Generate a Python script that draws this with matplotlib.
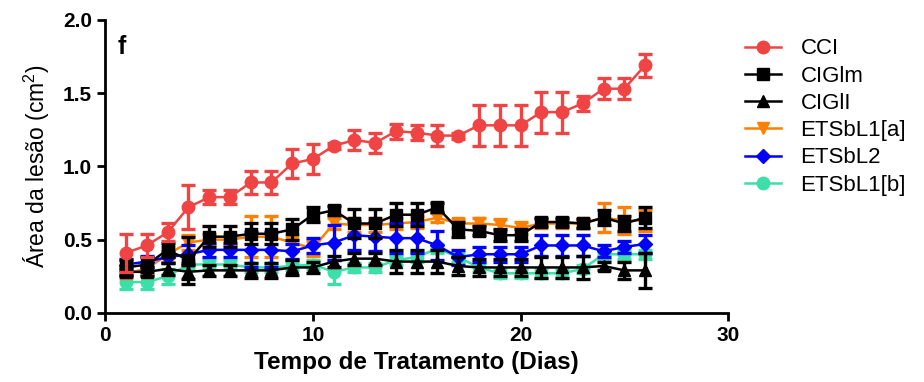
import matplotlib.pyplot as plt
from matplotlib.lines import Line2D

plt.rcParams['font.family'] = ['Liberation Sans', 'DejaVu Sans']
plt.rcParams['mathtext.fontset'] = 'custom'
plt.rcParams['mathtext.rm'] = 'Liberation Sans'

dias = list(range(1, 27))

cci = [0.41, 0.46, 0.55, 0.72, 0.79, 0.79, 0.89, 0.89, 1.02, 1.05, 1.14, 1.18, 1.16,
       1.24, 1.23, 1.21, 1.21, 1.28, 1.28, 1.28, 1.37, 1.37, 1.43, 1.53, 1.53, 1.69]
cci_err = [0.13, 0.08, 0.06, 0.15, 0.05, 0.05, 0.08, 0.08, 0.10, 0.10, 0.02, 0.07, 0.07,
           0.05, 0.05, 0.07, 0.02, 0.14, 0.14, 0.14, 0.14, 0.14, 0.05, 0.07, 0.07, 0.08]

ciglm = [0.31, 0.33, 0.43, 0.36, 0.52, 0.52, 0.54, 0.54, 0.57, 0.67, 0.70, 0.61, 0.61,
         0.67, 0.67, 0.72, 0.57, 0.56, 0.53, 0.53, 0.62, 0.62, 0.61, 0.65, 0.61, 0.65]
ciglm_err = [0.05, 0.05, 0.05, 0.16, 0.07, 0.07, 0.07, 0.07, 0.07, 0.05, 0.03, 0.10, 0.10,
             0.08, 0.08, 0.03, 0.05, 0.03, 0.04, 0.04, 0.03, 0.03, 0.03, 0.05, 0.05, 0.07]

cigli = [0.28, 0.28, 0.30, 0.28, 0.29, 0.29, 0.29, 0.29, 0.31, 0.31, 0.35, 0.37, 0.37,
         0.35, 0.35, 0.35, 0.32, 0.31, 0.31, 0.31, 0.31, 0.31, 0.31, 0.32, 0.29, 0.29]
cigli_err = [0.03, 0.03, 0.04, 0.05, 0.04, 0.04, 0.05, 0.05, 0.05, 0.04, 0.04, 0.04, 0.04,
             0.08, 0.08, 0.08, 0.06, 0.06, 0.06, 0.06, 0.07, 0.07, 0.08, 0.03, 0.06, 0.12]

etsbl1a = [0.27, 0.30, 0.40, 0.48, 0.50, 0.50, 0.52, 0.52, 0.48, 0.44, 0.61, 0.60, 0.60,
           0.61, 0.62, 0.65, 0.61, 0.61, 0.60, 0.58, 0.61, 0.61, 0.61, 0.65, 0.63, 0.63]
etsbl1a_err = [0.03, 0.04, 0.05, 0.05, 0.04, 0.04, 0.14, 0.14, 0.05, 0.05, 0.04, 0.05, 0.05,
               0.04, 0.04, 0.03, 0.03, 0.04, 0.04, 0.04, 0.03, 0.03, 0.03, 0.10, 0.09, 0.07]

etsbl2 = [0.33, 0.35, 0.38, 0.40, 0.43, 0.43, 0.43, 0.43, 0.42, 0.46, 0.48, 0.53, 0.52,
          0.51, 0.51, 0.46, 0.38, 0.40, 0.40, 0.40, 0.46, 0.46, 0.46, 0.42, 0.45, 0.47]
etsbl2_err = [0.04, 0.04, 0.04, 0.06, 0.05, 0.05, 0.12, 0.12, 0.05, 0.05, 0.12, 0.10, 0.10,
              0.10, 0.10, 0.10, 0.05, 0.05, 0.05, 0.05, 0.07, 0.07, 0.07, 0.04, 0.04, 0.06]

etsbl1b = [0.21, 0.21, 0.25, 0.33, 0.33, 0.33, 0.31, 0.31, 0.32, 0.33, 0.28, 0.31, 0.31,
           0.36, 0.38, 0.44, 0.38, 0.31, 0.27, 0.27, 0.27, 0.27, 0.30, 0.40, 0.40, 0.40]
etsbl1b_err = [0.05, 0.05, 0.05, 0.03, 0.03, 0.03, 0.03, 0.03, 0.03, 0.03, 0.08, 0.03, 0.03,
               0.03, 0.03, 0.03, 0.03, 0.03, 0.03, 0.03, 0.03, 0.03, 0.03, 0.03, 0.03, 0.03]

fig = plt.figure(figsize=(9.24, 3.82), dpi=100)
ax = fig.add_axes([0.114, 0.181, 0.674, 0.767])

series = [
    ("CCI", cci, cci_err, "#F04444", "o", 9, 6),
    ("CIGlm", ciglm, ciglm_err, "black", "s", 9, 5),
    ("CIGlI", cigli, cigli_err, "black", "^", 9, 4),
    ("ETSbL1[a]", etsbl1a, etsbl1a_err, "#FF8000", "v", 9, 2),
    ("ETSbL2", etsbl2, etsbl2_err, "#0000FF", "D", 7, 3),
    ("ETSbL1[b]", etsbl1b, etsbl1b_err, "#3DDFA8", "o", 9, 1),
]

handles = []
for name, vals, err, col, mk, ms, z in series:
    ax.errorbar(dias, vals, yerr=err, color=col, marker=mk, markersize=ms,
                linewidth=1.8, elinewidth=2.4, capsize=5, capthick=2.4,
                zorder=z)
    handles.append(Line2D([], [], color=col, marker=mk, markersize=ms,
                          linewidth=1.8, label=name))

ax.set_xlim(0, 30)
ax.set_ylim(0, 2.0)
ax.set_xticks([0, 10, 20, 30])
ax.set_yticks([0.0, 0.5, 1.0, 1.5, 2.0])
ax.set_yticklabels(["0.0", "0.5", "1.0", "1.5", "2.0"])
for s in ["top", "right"]:
    ax.spines[s].set_visible(False)
for s in ["left", "bottom"]:
    ax.spines[s].set_linewidth(2)
ax.tick_params(width=2, length=6, labelsize=15)
for lb in ax.get_xticklabels() + ax.get_yticklabels():
    lb.set_fontweight("bold")

ax.set_xlabel("Tempo de Tratamento (Dias)", fontsize=17.5, fontweight="bold")
ax.set_ylabel("Área da lesão (cm$^2$)", fontsize=16.5, labelpad=8)
ax.text(0.02, 0.95, "f", transform=ax.transAxes, fontsize=18, fontweight="bold",
        va="top")

ax.legend(handles=handles, loc="upper left", bbox_to_anchor=(0.995, 1.005),
          frameon=False, fontsize=16, handlelength=1.6, handletextpad=0.9,
          labelspacing=0.28)

fig.savefig("out.png", dpi=100)
